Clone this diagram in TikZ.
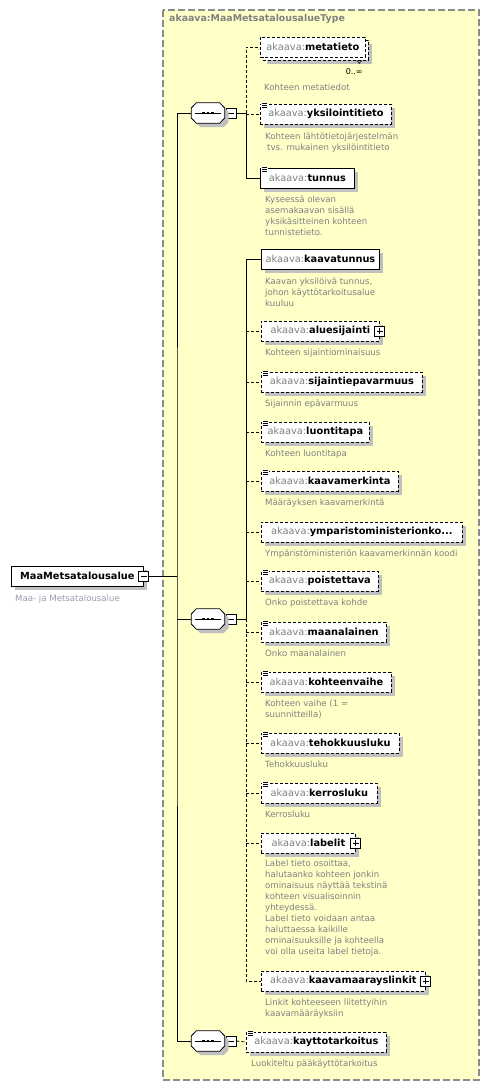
\documentclass[tikz,border=0pt]{standalone}
\usepackage{fontspec}
\setmainfont{DejaVu Sans}
\usetikzlibrary{positioning,calc,shadows}
\definecolor{typefill}{RGB}{255,255,200}
\definecolor{typeborder}{RGB}{140,140,140}
\definecolor{nsgray}{RGB}{128,128,128}
\definecolor{descgray}{RGB}{128,128,128}
\definecolor{rootdesc}{RGB}{150,156,176}
\definecolor{shadowgray}{RGB}{192,192,192}
\newcommand{\ak}[1]{\textcolor{nsgray}{akaava:}\textbf{#1}}
% sekvenssin kahdeksankulmio
\newcommand{\seqpath}[1]{($(#1.west)+(0,-5)$) -- ($(#1.north west)+(5,0)$) -- ($(#1.north east)+(-5,0)$) -- ($(#1.east)+(0,-5)$)
    -- ($(#1.east)+(0,5)$) -- ($(#1.south east)+(-5,0)$) -- ($(#1.south west)+(5,0)$) -- ($(#1.west)+(0,5)$) -- cycle}

\begin{document}
\begin{tikzpicture}[x=1pt, y=-1pt,
    dashline/.style={dash pattern=on 3pt off 2pt},
    elembase/.style={
        rectangle, draw=black, line width=0.8pt, fill=white,
        minimum height=20pt, inner xsep=2pt, inner ysep=0pt, anchor=west,
        font=\fontsize{9.8}{11}\selectfont
    },
    elem/.style={elembase, drop shadow={shadow xshift=4pt, shadow yshift=-4pt, fill=shadowgray, opacity=1}},
    optelem/.style={elem, dashline},
    boxw/.style={minimum width=#1},
    desc/.style={inner sep=0pt, align=left, text=descgray, font=\fontsize{8.6}{11}\selectfont},
    mult/.style={inner sep=0pt, font=\fontsize{8}{9}\selectfont},
    typetitle/.style={anchor=west, inner sep=0pt, text=nsgray, font=\fontsize{9.4}{11}\selectfont\bfseries},
    seqbox/.style={rectangle, minimum width=33pt, minimum height=20pt, inner sep=0pt},
    togglebox/.style={rectangle, draw=black, line width=0.7pt, fill=white, minimum size=10pt, inner sep=0pt},
    minusbox/.style={togglebox, path picture={
        \draw[line width=0.7pt] ([xshift=2pt]path picture bounding box.west) -- ([xshift=-2pt]path picture bounding box.east);}},
    plusbox/.style={togglebox, path picture={
        \draw[line width=0.7pt] ([xshift=2pt]path picture bounding box.west) -- ([xshift=-2pt]path picture bounding box.east)
            ([yshift=2pt]path picture bounding box.south) -- ([yshift=-2pt]path picture bounding box.north);}},
    conn/.style={draw=black, line width=0.8pt},
    dashconn/.style={conn, dashline}
]
\useasboundingbox (0,0) rectangle (490,1086);

% tyyppi
\draw[typeborder, fill=typefill, line width=1.2pt, dash pattern=on 7pt off 3pt] (163,10) rectangle (479,1080);
\node[typetitle] (typeT) at (169,19) {akaava:MaaMetsatalousalueType};

% juurielementti
\node[elem, boxw=132pt, font=\fontsize{9.8}{11}\selectfont\bfseries] (root) at (11,576) {MaaMetsatalousalue};
\node[minusbox] (rootM) at (root.east) {};
\node[desc, text=rootdesc, below right=8pt and 4pt of root.south west] (rootD) {Maa- ja Metsatalousalue};

% sekvenssit
\node[seqbox] (seqA) at (208,113) {};
\node[minusbox, right=1pt of seqA] (seqAm) {};
\node[seqbox] (seqB) at (208,619) {};
\node[minusbox, right=1pt of seqB] (seqBm) {};
\node[seqbox] (seqC) at (208,1041) {};
\node[minusbox, right=1pt of seqC] (seqCm) {};
\foreach \s in {seqA,seqB,seqC}{
    \fill[shadowgray, transform canvas={shift={(4,4)}}] \seqpath{\s};
    \draw[conn, fill=white] \seqpath{\s};
    \draw[line width=0.7pt] ($(\s.west)+(4,0)$) -- ($(\s.east)+(-4,0)$);
    \foreach \dx in {-4.5,0,4.5}
        \fill ($(\s.center)+(\dx-1.3,-1.3)$) rectangle ++(2.6,2.6);
}
\coordinate (spine) at (177,576);
\coordinate (forkA) at (246,113);
\coordinate (forkB) at (246,619);

% ensimmainen sekvenssi
\node[elembase, dashline, boxw=105pt,
    drop shadow={shadow xshift=7pt, shadow yshift=-7pt, fill=shadowgray, opacity=1},
    copy shadow={shadow xshift=3pt, shadow yshift=-3pt, draw=black, fill=white, line width=0.8pt, dashline}] (meta) at (260,47) {\ak{metatieto}};
\node[mult, below left=11pt and 3pt of meta.south east] (metaM) {0..∞};
\draw[line width=0.6pt] ($(meta.south east)+(-9,3)$) -- ++(2.5,3) -- ++(2.5,-3);
\node[desc, below right=26pt and 4pt of meta.south west] (metaD) {Kohteen metatiedot};
\node[optelem, boxw=131pt] (yksi) at (260,114) {\ak{yksilointitieto}};
\node[desc, below right=8pt and 5pt of yksi.south west] (yksiD) {Kohteen lähtötietojärjestelmän\\\hspace*{2pt}tvs. mukainen yksilöintitieto};
\node[elem, boxw=94pt] (tunnus) at (260,178) {\ak{tunnus}};
\node[desc, below right=7pt and 5pt of tunnus.south west] (tunnusD) {Kyseessä olevan\\asemakaavan sisällä\\yksikäsitteinen kohteen\\tunnistetieto.};

% toinen sekvenssi
\node[elem, boxw=118pt] (kaava) at (261,259) {\ak{kaavatunnus}};
\node[desc, below right=8pt and 4pt of kaava.south west] (kaavaD) {Kaavan yksilöivä tunnus,\\johon käyttötarkoitusalue\\kuuluu};
\node[optelem, boxw=118pt] (alue) at (261,331) {\ak{aluesijainti}};
\node[plusbox] (alueP) at (alue.east) {};
\node[desc, below right=7pt and 4pt of alue.south west] (alueD) {Kohteen sijaintiominaisuus};
\node[optelem, boxw=161pt] (sijepa) at (261,382) {\ak{sijaintiepavarmuus}};
\node[desc, below right=7pt and 4pt of sijepa.south west] (sijepaD) {Sijainnin epävarmuus};
\node[optelem, boxw=108pt] (luonti) at (261,432) {\ak{luontitapa}};
\node[desc, below right=7pt and 4pt of luonti.south west] (luontiD) {Kohteen luontitapa};
\node[optelem, boxw=137pt] (kmerk) at (261,481) {\ak{kaavamerkinta}};
\node[desc, below right=7pt and 4pt of kmerk.south west] (kmerkD) {Määräyksen kaavamerkintä};
\node[optelem, boxw=201pt] (ymp) at (261,532) {\ak{ymparistoministerionko...}};
\node[desc, below right=7pt and 4pt of ymp.south west] (ympD) {Ympäristöministeriön kaavamerkinnän koodi};
\node[optelem, boxw=117pt] (poist) at (261,581) {\ak{poistettava}};
\node[desc, below right=7pt and 4pt of poist.south west] (poistD) {Onko poistettava kohde};
\node[optelem, boxw=125pt] (maanal) at (261,632) {\ak{maanalainen}};
\node[desc, below right=7pt and 4pt of maanal.south west] (maanalD) {Onko maanalainen};
\node[optelem, boxw=130pt] (kvaihe) at (261,682) {\ak{kohteenvaihe}};
\node[desc, below right=7pt and 4pt of kvaihe.south west] (kvaiheD) {Kohteen vaihe (1 =\\suunnitteilla)};
\node[optelem, boxw=138pt] (tehok) at (261,743) {\ak{tehokkuusluku}};
\node[desc, below right=7pt and 4pt of tehok.south west] (tehokD) {Tehokkuusluku};
\node[optelem, boxw=116pt] (kerros) at (261,793) {\ak{kerrosluku}};
\node[desc, below right=7pt and 4pt of kerros.south west] (kerrosD) {Kerrosluku};
\node[optelem, boxw=94pt] (labelit) at (261,843) {\ak{labelit}};
\node[plusbox] (labelitP) at (labelit.east) {};
\node[desc, below right=6pt and 4pt of labelit.south west] (labelitD) {Label tieto osoittaa,\\halutaanko kohteen jonkin\\ominaisuus näyttää tekstinä\\kohteen visualisoinnin\\yhteydessä.\\Label tieto voidaan antaa\\haluttaessa kaikille\\ominaisuuksille ja kohteella\\voi olla useita label tietoja.};
\node[optelem, boxw=164pt] (kmlink) at (261,981) {\ak{kaavamaarayslinkit}};
\node[plusbox] (kmlinkP) at (kmlink.east) {};
\node[desc, below right=7pt and 4pt of kmlink.south west] (kmlinkD) {Linkit kohteeseen liitettyihin\\kaavamääräyksiin};

% kolmas sekvenssi
\node[optelem, boxw=140pt] (kayttot) at (246,1042) {\ak{kayttotarkoitus}};
\node[desc, below right=7pt and 5pt of kayttot.south west] (kayttotD) {Luokiteltu pääkäyttötarkoitus};

% dokumentaatio-ikonit
\foreach \n in {yksi,tunnus,sijepa,luonti,kmerk,poist,maanal,kvaihe,tehok,kerros,kayttot}{
    \fill[white] ($(\n.north west)+(1,-1)$) rectangle ($(\n.north west)+(8,5)$);
    \foreach \k in {0,2,4}
        \draw[line width=0.7pt] ($(\n.north west)+(2,\k)$) -- ++(5,0);
}

% yhteydet
\draw[conn] (rootM.east) -- (spine);
\draw[conn] (seqA.west) -| (spine) |- (seqC.west);
\draw[conn] (spine |- seqB.west) -- (seqB.west);

\draw[conn] (seqAm.east) -- (forkA);
\draw[dashconn] (forkA) |- (meta.west);
\draw[dashconn] (forkA |- yksi.west) -- (yksi.west);
\draw[conn] (forkA) |- (tunnus.west);

\draw[conn] (seqBm.east) -- (forkB);
\draw[conn] (forkB) |- (kaava.west);
\draw[dashconn] (forkB) |- (kmlink.west);
\foreach \n in {alue,sijepa,luonti,kmerk,ymp,poist,maanal,kvaihe,tehok,kerros,labelit}
    \draw[dashconn] (forkB |- \n.west) -- (\n.west);

\draw[dashconn] (seqCm.east) -- (kayttot.west);

\end{tikzpicture}
\end{document}
